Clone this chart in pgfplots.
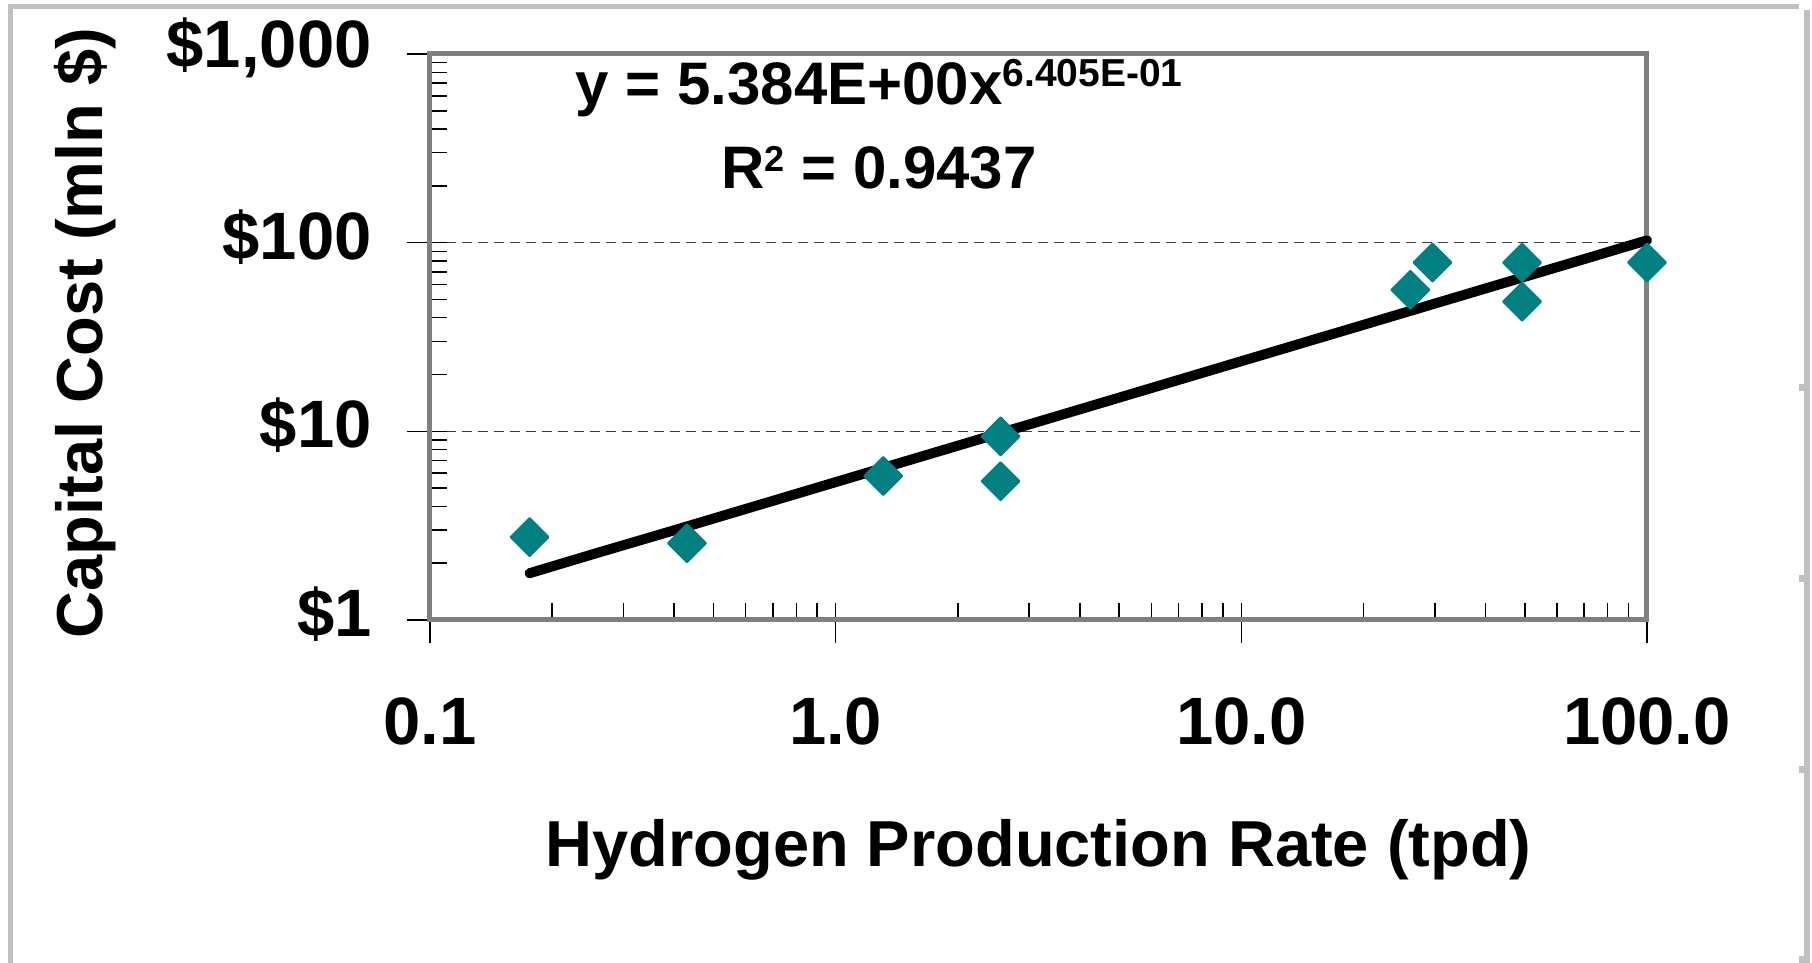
\documentclass[border=0pt]{standalone}
\usepackage{fontspec}
\setmainfont{Liberation Sans}
\usepackage{pgfplots}
\pgfplotsset{compat=1.18}
\definecolor{teal80}{RGB}{0,128,128}
\definecolor{axgray}{RGB}{128,128,128}
\definecolor{framegray}{RGB}{192,192,192}
\definecolor{gridgray}{RGB}{60,60,60}
\begin{document}
\begin{tikzpicture}
\path[use as bounding box] (0,0) rectangle (906pt,481.5pt);
\draw[framegray, line width=2.5pt] (5.25pt,0) -- (5.25pt,478.25pt) -- (899.5pt,478.25pt);
\draw[framegray, line width=3pt] (903.25pt,476.5pt) -- (903.25pt,0);
\foreach \yy in {287.5,192,96.5,1.5}{
  \fill[framegray] (899.5pt,\yy pt-1.75pt) rectangle (903.25pt,\yy pt+1.75pt);
}
\begin{axis}[
  at={(215pt,171.5pt)}, anchor=south west,
  scale only axis, width=608.5pt, height=283pt,
  xmode=log, ymode=log,
  xmin=0.1, xmax=100, ymin=1, ymax=1000,
  xtick={0.1,1,10,100}, xticklabels={0.1,1.0,10.0,100.0},
  ytick={1,10,100,1000}, yticklabels={\$1,\$10,\$100,{\$1,000}},
  minor xtick={0.2,0.3,0.4,0.5,0.6,0.7,0.8,0.9,2,3,4,5,6,7,8,9,20,30,40,50,60,70,80,90},
  minor ytick={2,3,4,5,6,7,8,9,20,30,40,50,60,70,80,90,200,300,400,500,600,700,800,900},
  tick pos=left,
  tick align=inside,
  major tick length=20pt,
  minor tick length=8.5pt,
  every tick/.style={black, line width=0.75pt},
  major x tick style={yshift=-11.5pt},
  major y tick style={xshift=-11.5pt},
  axis line style={axgray, line width=2.5pt},
  ymajorgrids=true,
  major grid style={gridgray, line width=0.75pt, dash pattern=on 5pt off 3pt},
  tick label style={font=\fontsize{33.5pt}{40pt}\selectfont\bfseries},
  xticklabel style={anchor=base, inner sep=0pt, yshift=-62.5pt},
  yticklabel style={anchor=east, inner sep=0pt, xshift=-29pt, yshift=3pt},
  label style={font=\fontsize{32.5pt}{39pt}\selectfont\bfseries},
  xlabel={Hydrogen Production Rate (tpd)},
  ylabel={Capital Cost (mln \$)},
  xlabel style={at={(axis description cs:0.5,-0.4364)}, anchor=base, inner sep=0pt},
  ylabel style={at={(axis description cs:-0.2687,0.507)}, anchor=base, inner sep=0pt},
  clip=false,
]
\addplot[only marks, mark=square*, mark size=6.7pt,
  mark options={fill=teal80, draw=teal80, rotate=45, line join=round, line width=1pt}]
  coordinates {
  (0.176,2.75) (0.43,2.55) (1.31,5.8) (2.55,9.41) (2.55,5.44)
  (26.1,56.2) (29.6,78.4) (49.2,78.4) (49.2,48.7) (100,78.4)
  };
\addplot[black, line width=5pt, line cap=round, line join=round]
  coordinates {
  (0.176,1.77) (0.25,2.22) (0.4,2.99) (0.7,4.28) (1,5.38) (1.5,6.98)
  (2,8.39) (3,10.88) (5,15.09) (7,18.72) (10,23.53) (15,30.51)
  (20,36.67) (30,47.56) (40,57.18) (50,65.97) (70,81.8) (100,102.9)
  };
\node[anchor=base, inner sep=0pt, font=\fontsize{30pt}{36pt}\selectfont\bfseries]
  at (axis description cs:0.369,0.9099)
  {y = 5.384E+00x\raisebox{9pt}{\fontsize{19.5pt}{23pt}\selectfont 6.405E-01}};
\node[anchor=base, inner sep=0pt, font=\fontsize{30pt}{36pt}\selectfont\bfseries]
  at (axis description cs:0.369,0.7615)
  {R\raisebox{8.5pt}{\fontsize{18pt}{20pt}\selectfont 2} = 0.9437};
\end{axis}
\end{tikzpicture}
\end{document}
